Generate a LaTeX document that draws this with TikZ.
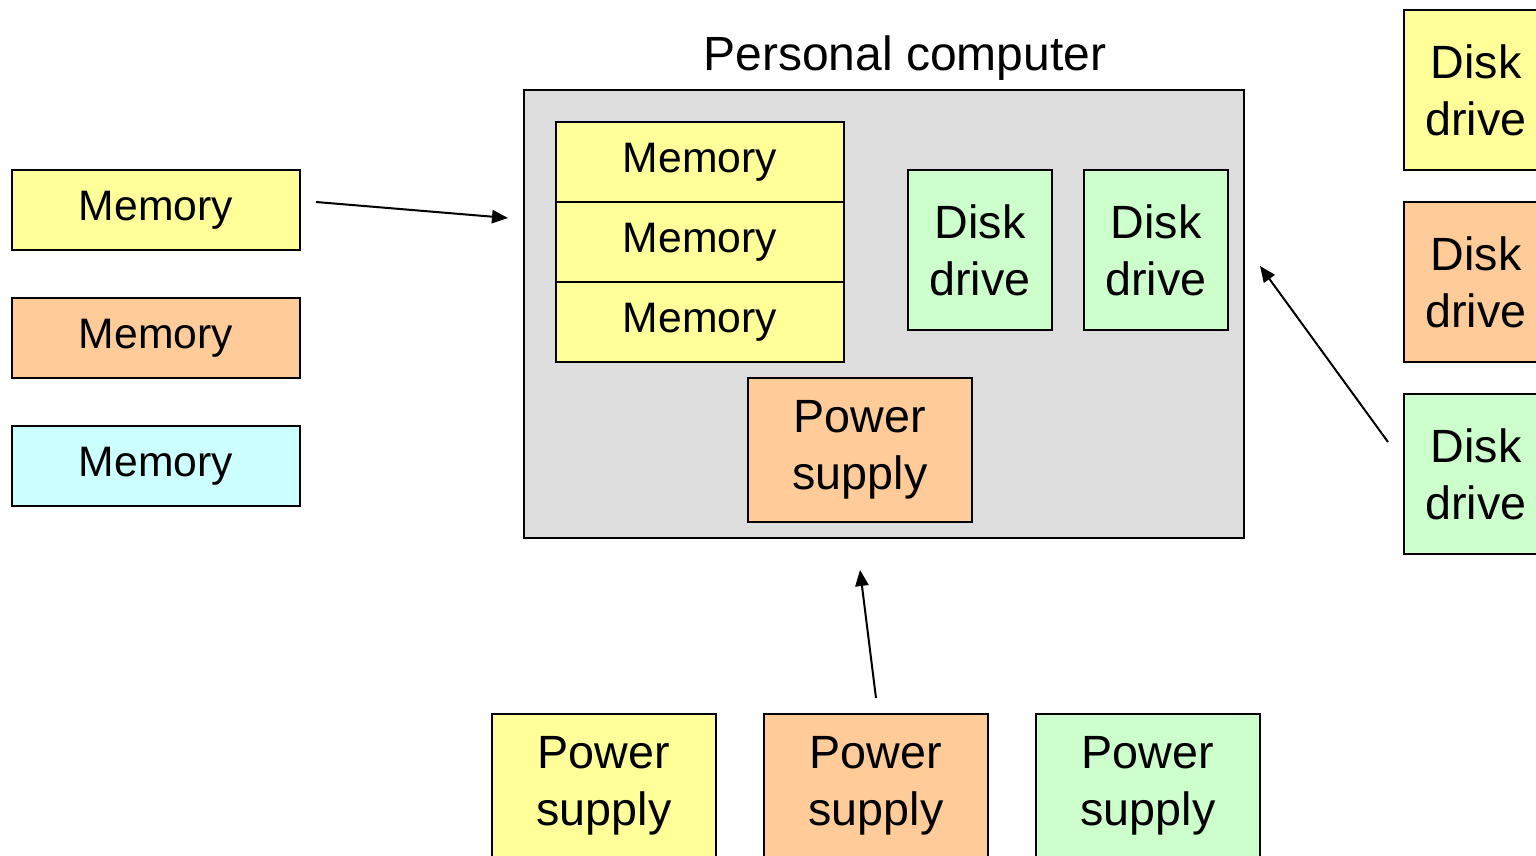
\documentclass[tikz,border=0pt]{standalone}
\usepackage{fontspec}
\setmainfont{Liberation Sans}
\usetikzlibrary{arrows.meta}

\definecolor{partyellow}{RGB}{255,255,153}
\definecolor{partorange}{RGB}{255,204,153}
\definecolor{partcyan}{RGB}{204,255,255}
\definecolor{partgreen}{RGB}{204,255,204}
\definecolor{casegray}{RGB}{221,221,221}

\tikzset{every picture/.style={line width=1.75pt}}
\tikzset{
  part/.style={draw, line width=1.75pt, inner sep=0pt, align=center, font=\fontsize{35}{42.75}\selectfont},
  membox/.style={part, minimum width=216pt, minimum height=60pt, font=\fontsize{32}{38}\selectfont},
  diskbox/.style={part, minimum width=108pt, minimum height=120pt},
  psubox/.style={part, minimum width=168pt, minimum height=108pt},
  pushin/.style={-{Triangle[length=12pt,width=10pt]}, line width=1.5pt},
}

\begin{document}
\begin{tikzpicture}[x=0.75pt,y=0.75pt,yscale=-1,xscale=1]
\path[use as bounding box, clip] (0,0) rectangle (1536,856);

%Shape: Rectangle (computer case)
\node [draw, fill=casegray, line width=1.75pt, minimum width=540pt, minimum height=336pt] (pc) at (884,314) {};
% Text Node
\node [font=\fontsize{36}{43}\selectfont] (pctitle) at (905,58) {Personal computer};

%Parts inside the case
\node [membox, fill=partyellow] (inmemA) at (700,162) {Memory};
\node [membox, fill=partyellow] (inmemB) at (700,242) {Memory};
\node [membox, fill=partyellow] (inmemC) at (700,322) {Memory};
\node [diskbox, fill=partgreen] (indiskA) at (980,250) {Disk\\drive};
\node [diskbox, fill=partgreen] (indiskB) at (1156,250) {Disk\\drive};
\node [psubox, fill=partorange] (inpsu) at (860,450) {Power\\supply};

%Spare memory
\node [membox, fill=partyellow] (memA) at (156,210) {Memory};
\node [membox, fill=partorange] (memB) at (156,338) {Memory};
\node [membox, fill=partcyan] (memC) at (156,466) {Memory};

%Spare disk drives
\node [diskbox, fill=partyellow] (diskA) at (1476,90) {Disk\\drive};
\node [diskbox, fill=partorange] (diskB) at (1476,282) {Disk\\drive};
\node [diskbox, fill=partgreen] (diskC) at (1476,474) {Disk\\drive};

%Spare power supplies
\node [psubox, fill=partyellow] (psuA) at (604,786) {Power\\supply};
\node [psubox, fill=partorange] (psuB) at (876,786) {Power\\supply};
\node [psubox, fill=partgreen] (psuC) at (1148,786) {Power\\supply};

%Straight Lines (arrows)
\coordinate (memfrom) at (316,202);
\coordinate (memto) at (508,218);
\coordinate (diskfrom) at (1388,442);
\coordinate (diskto) at (1260,266);
\coordinate (psufrom) at (876,698);
\coordinate (psuto) at (860,570);
\draw [pushin] (memfrom) -- (memto);
\draw [pushin] (diskfrom) -- (diskto);
\draw [pushin] (psufrom) -- (psuto);

\end{tikzpicture}
\end{document}
